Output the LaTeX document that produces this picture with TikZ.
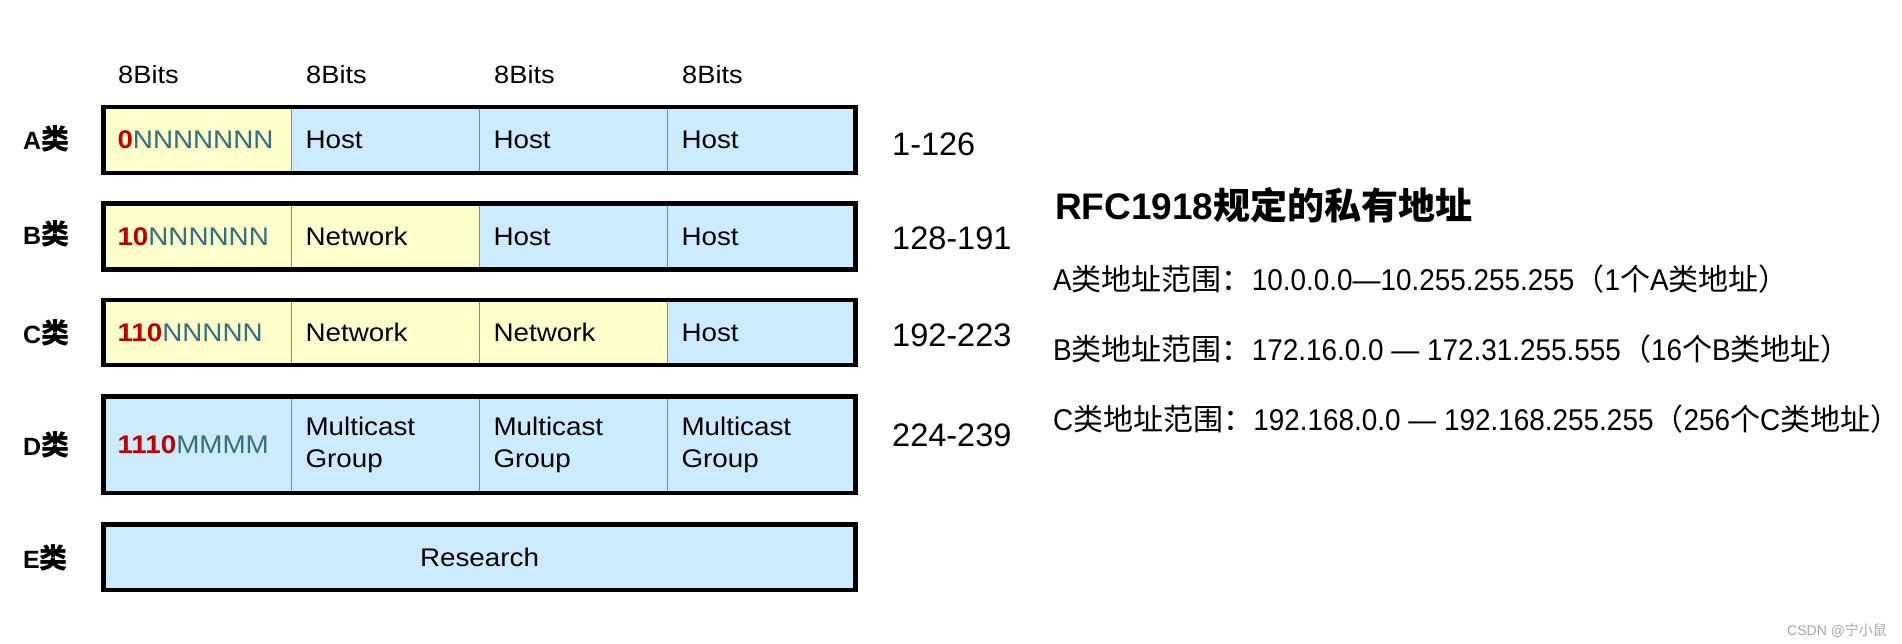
\documentclass[tikz,border=0pt]{standalone}
\usepackage{fontspec}
\setmainfont{Liberation Sans}
\newfontfamily\lf[FakeStretch=1.09]{Liberation Sans}
\newfontfamily\rf[FakeStretch=0.93]{Liberation Sans}
\newfontfamily\cjk{Noto Sans CJK SC}
\newcommand\zh[1]{{\cjk #1}}
\definecolor{yel}{HTML}{FFFFCC}
\definecolor{blu}{HTML}{CCEBFF}
\definecolor{divcol}{HTML}{7F8C8D}
\definecolor{nteal}{HTML}{33707F}
\definecolor{redb}{HTML}{C00000}
\definecolor{wm}{HTML}{A6A6A6}
\newcommand\pre[2]{\textcolor{redb}{\bfseries #1}\textcolor{nteal}{#2}}
\begin{document}
\begin{tikzpicture}[x=1pt,y=-1pt,
  cell/.style={draw=divcol, line width=1.2pt, anchor=north west, inner xsep=14pt, inner ysep=0pt,
    outer sep=0pt, text width=160pt, align=left, font=\lf\fontsize{25.5}{32.4}\selectfont},
  outerbox/.style={draw=black, line width=4.5pt},
  lbl/.style={anchor=base west, inner sep=0pt, font=\bfseries\fontsize{25}{30}\selectfont},
  bits/.style={anchor=base west, inner sep=0pt, font=\lf\fontsize{25}{30}\selectfont},
  rng/.style={anchor=base west, inner sep=0pt, font=\fontsize{32.5}{36}\selectfont},
  rline/.style={anchor=base west, inner sep=0pt, font=\rf\fontsize{30}{36}\selectfont},
]
\useasboundingbox (0,0) rectangle (1902,644);

% 8Bits headers
\node[bits] (h1) at (118,84) {8Bits};
\node[bits] (h2) at (306,84) {8Bits};
\node[bits] (h3) at (494,84) {8Bits};
\node[bits] (h4) at (682,84) {8Bits};

% Row labels
\node[lbl] (la) at (23,150) {A{\cjk\fontsize{28}{30}\selectfont 类}};
\node[lbl] (lb) at (23,245) {B{\cjk\fontsize{28}{30}\selectfont 类}};
\node[lbl] (lc) at (23,343.3) {C{\cjk\fontsize{28}{30}\selectfont 类}};
\node[lbl] (ld) at (23,455) {D{\cjk\fontsize{28}{30}\selectfont 类}};
\node[lbl] (le) at (23,568.3) {E{\cjk\fontsize{28}{30}\selectfont 类}};

% Row A
\node[cell,fill=yel,minimum height=66pt] (a1) at (103.5,106.8) {\pre{0}{NNNNNNN}};
\node[cell,fill=blu,minimum height=66pt] (a2) at (291.5,106.8) {Host};
\node[cell,fill=blu,minimum height=66pt] (a3) at (479.5,106.8) {Host};
\node[cell,fill=blu,minimum height=66pt] (a4) at (667.5,106.8) {Host};
\draw[outerbox] (a1.north west) rectangle (a4.south east);

% Row B
\node[cell,fill=yel,minimum height=66pt] (b1) at (103.5,203.5) {\pre{10}{NNNNNN}};
\node[cell,fill=yel,minimum height=66pt] (b2) at (291.5,203.5) {Network};
\node[cell,fill=blu,minimum height=66pt] (b3) at (479.5,203.5) {Host};
\node[cell,fill=blu,minimum height=66pt] (b4) at (667.5,203.5) {Host};
\draw[outerbox] (b1.north west) rectangle (b4.south east);

% Row C
\node[cell,fill=yel,minimum height=65pt] (c1) at (103.5,300.2) {\pre{110}{NNNNN}};
\node[cell,fill=yel,minimum height=65pt] (c2) at (291.5,300.2) {Network};
\node[cell,fill=yel,minimum height=65pt] (c3) at (479.5,300.2) {Network};
\node[cell,fill=blu,minimum height=65pt] (c4) at (667.5,300.2) {Host};
\draw[outerbox] (c1.north west) rectangle (c4.south east);

% Row D
\node[cell,fill=blu,minimum height=96.5pt] (d1) at (103.5,396.5) {\pre{1110}{MMMM}};
\node[cell,fill=blu,minimum height=96.5pt] (d2) at (291.5,396.5) {Multicast\\Group};
\node[cell,fill=blu,minimum height=96.5pt] (d3) at (479.5,396.5) {Multicast\\Group};
\node[cell,fill=blu,minimum height=96.5pt] (d4) at (667.5,396.5) {Multicast\\Group};
\draw[outerbox] (d1.north west) rectangle (d4.south east);

% Row E
\node[cell,fill=blu,minimum height=65.5pt,text width=724pt,align=center] (e1) at (103.5,524.3) {Research};
\draw[outerbox] (e1.north west) rectangle (e1.south east);

% Ranges
\node[rng] (ra) at (892,155.7) {1-126};
\node[rng] (rb) at (892,250) {128-191};
\node[rng] (rc) at (892,346.7) {192-223};
\node[rng] (rd) at (892,446.7) {224-239};

% Right text
\node[anchor=base west, inner sep=0pt, font=\bfseries\fontsize{37}{40}\selectfont] (title) at (1055,219.3)
  {RFC1918{\cjk\bfseries 规定的私有地址}};
\node[rline] (pa) at (1053,290.7)
  {A\zh{类地址范围：}10.0.0.0—10.255.255.255\zh{（}1\zh{个}A\zh{类地址）}};
\node[rline] (pb) at (1053,360)
  {B\zh{类地址范围：}172.16.0.0 — 172.31.255.555\zh{（}16\zh{个}B\zh{类地址）}};
\node[rline] (pc) at (1053,430)
  {C\zh{类地址范围：}192.168.0.0 — 192.168.255.255\zh{（}256\zh{个}C\zh{类地址）}};

% Watermark
\node[anchor=base west, inner sep=0pt, text=wm, font=\fontsize{14}{16}\selectfont] (wmk) at (1787,635)
  {CSDN @\zh{宁小鼠}};
\end{tikzpicture}
\end{document}
